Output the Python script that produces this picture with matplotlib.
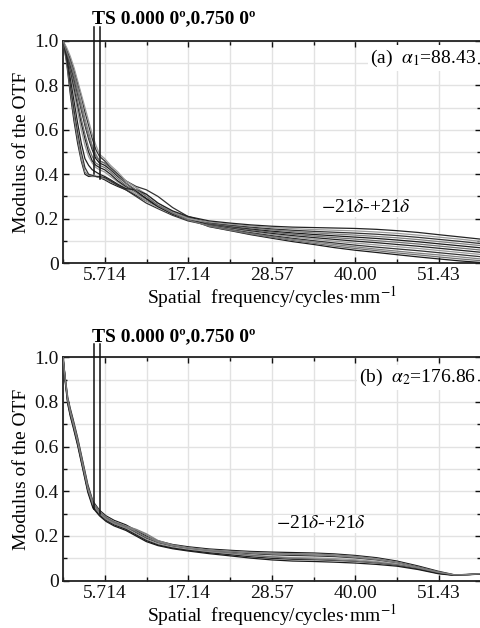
import matplotlib
matplotlib.use("Agg")
import matplotlib.pyplot as plt
from matplotlib.ticker import FixedLocator

plt.rcParams['font.family'] = ['Liberation Serif', 'DejaVu Serif']
plt.rcParams['mathtext.fontset'] = 'stix'

# ---------------- data ----------------
x_major = [5.714, 17.14, 28.57, 40.00, 51.43]
x_major_labels = ['5.714', '17.14', '28.57', '40.00', '51.43']
x_minor = [0, 11.43, 22.86, 34.29, 45.71, 57.14]
y_major = [0, 0.2, 0.4, 0.6, 0.8, 1.0]
y_major_labels = ['0', '0.2', '0.4', '0.6', '0.8', '1.0']
y_minor = [0.1, 0.3, 0.5, 0.7, 0.9]

# panel (a) frequencies
freq_a = [0, 0.5, 1, 1.5, 2, 2.5, 3, 3.5, 4, 4.5, 5, 5.7, 6.5, 7.5, 8.6, 10, 11.4, 13, 15, 17.1,
          20, 22.9, 25.7, 28.6, 31.4, 34.3, 37.1, 40, 42.9, 45.7, 48.6, 51.4, 54.3, 57.14]

mtf_a1 = [1.0, 0.90, 0.76, 0.64, 0.54, 0.46, 0.40, 0.39, 0.39, 0.39, 0.385, 0.375, 0.36, 0.345, 0.33, 0.305, 0.28, 0.255, 0.225, 0.200,
          0.164, 0.146, 0.128, 0.112, 0.097, 0.084, 0.070, 0.058, 0.048, 0.038, 0.028, 0.019, 0.010, 0.003]
mtf_a2 = [1.0, 0.91, 0.78, 0.66, 0.56, 0.47, 0.41, 0.395, 0.39, 0.39, 0.385, 0.38, 0.365, 0.35, 0.335, 0.31, 0.29, 0.26, 0.23, 0.205,
          0.168, 0.150, 0.134, 0.120, 0.107, 0.095, 0.084, 0.073, 0.063, 0.054, 0.045, 0.037, 0.028, 0.019]
mtf_a3 = [1.0, 0.92, 0.80, 0.69, 0.59, 0.50, 0.43, 0.40, 0.395, 0.39, 0.39, 0.385, 0.37, 0.35, 0.33, 0.30, 0.27, 0.245, 0.215, 0.19,
          0.170, 0.153, 0.138, 0.124, 0.112, 0.101, 0.091, 0.081, 0.072, 0.064, 0.056, 0.047, 0.038, 0.029]
mtf_a4 = [1.0, 0.94, 0.86, 0.77, 0.68, 0.60, 0.53, 0.48, 0.45, 0.43, 0.42, 0.41, 0.39, 0.365, 0.34, 0.31, 0.28, 0.25, 0.22, 0.195,
          0.172, 0.156, 0.142, 0.129, 0.118, 0.108, 0.099, 0.090, 0.082, 0.074, 0.066, 0.057, 0.048, 0.039]
mtf_a5 = [1.0, 0.94, 0.87, 0.79, 0.71, 0.63, 0.56, 0.50, 0.46, 0.44, 0.43, 0.42, 0.40, 0.37, 0.345, 0.32, 0.29, 0.255, 0.225, 0.20,
          0.174, 0.159, 0.146, 0.134, 0.124, 0.115, 0.107, 0.099, 0.092, 0.084, 0.076, 0.067, 0.058, 0.049]
mtf_a6 = [1.0, 0.95, 0.88, 0.81, 0.73, 0.65, 0.58, 0.52, 0.48, 0.45, 0.44, 0.43, 0.41, 0.38, 0.35, 0.32, 0.29, 0.26, 0.23, 0.205,
          0.176, 0.162, 0.150, 0.139, 0.130, 0.122, 0.115, 0.108, 0.101, 0.094, 0.086, 0.077, 0.068, 0.059]
mtf_a7 = [1.0, 0.95, 0.89, 0.83, 0.76, 0.69, 0.62, 0.56, 0.51, 0.47, 0.45, 0.44, 0.42, 0.39, 0.36, 0.325, 0.29, 0.255, 0.22, 0.195,
          0.178, 0.165, 0.154, 0.144, 0.136, 0.129, 0.123, 0.117, 0.111, 0.104, 0.096, 0.087, 0.078, 0.069]
mtf_a8 = [1.0, 0.96, 0.91, 0.85, 0.79, 0.72, 0.65, 0.59, 0.53, 0.49, 0.46, 0.45, 0.43, 0.40, 0.37, 0.34, 0.30, 0.26, 0.225, 0.20,
          0.180, 0.168, 0.158, 0.149, 0.142, 0.136, 0.131, 0.126, 0.120, 0.114, 0.106, 0.097, 0.088, 0.079]
mtf_a9 = [1.0, 0.96, 0.92, 0.87, 0.81, 0.75, 0.68, 0.62, 0.56, 0.51, 0.48, 0.46, 0.43, 0.40, 0.37, 0.345, 0.33, 0.30, 0.25, 0.21,
          0.182, 0.171, 0.162, 0.154, 0.148, 0.143, 0.139, 0.135, 0.130, 0.124, 0.116, 0.107, 0.098, 0.088]
mtf_a10 = [1.0, 0.97, 0.93, 0.88, 0.82, 0.76, 0.70, 0.64, 0.58, 0.53, 0.49, 0.47, 0.44, 0.41, 0.37, 0.34, 0.31, 0.27, 0.23, 0.20,
           0.185, 0.175, 0.167, 0.160, 0.155, 0.151, 0.148, 0.145, 0.140, 0.134, 0.126, 0.117, 0.108, 0.098]
mtf_a11 = [1.0, 0.93, 0.83, 0.73, 0.63, 0.54, 0.47, 0.44, 0.42, 0.41, 0.40, 0.39, 0.375, 0.355, 0.335, 0.33, 0.31, 0.27, 0.235, 0.21,
           0.19, 0.180, 0.172, 0.166, 0.162, 0.160, 0.158, 0.156, 0.152, 0.146, 0.138, 0.128, 0.118, 0.108]
mtf_a12 = [1.0, 0.95, 0.90, 0.84, 0.77, 0.70, 0.63, 0.57, 0.52, 0.48, 0.46, 0.45, 0.425, 0.395, 0.36, 0.33, 0.30, 0.26, 0.225, 0.195,
           0.166, 0.148, 0.131, 0.116, 0.102, 0.089, 0.077, 0.066, 0.056, 0.046, 0.037, 0.028, 0.019, 0.011]

curves_a = [mtf_a1, mtf_a2, mtf_a3, mtf_a4, mtf_a5, mtf_a6, mtf_a7, mtf_a8, mtf_a9, mtf_a10, mtf_a11, mtf_a12]

# panel (b) frequencies
freq_b = [0, 0.3, 0.65, 1, 1.4, 2, 2.8, 3.4, 4.1, 5, 5.9, 7, 8.6, 10, 11.4, 13, 15, 17.1, 20, 22.9, 25.7,
          28.6, 31.4, 34.3, 37.1, 40, 42.9, 45.7, 48.6, 51.4, 53.5, 55, 57.14]

mtf_b1 = [1.0, 0.91, 0.82, 0.77, 0.72, 0.64, 0.52, 0.43, 0.355, 0.315, 0.29, 0.27, 0.25, 0.225, 0.2, 0.178, 0.162, 0.152, 0.142, 0.136, 0.131,
          0.128, 0.126, 0.124, 0.12, 0.113, 0.103, 0.088, 0.066, 0.042, 0.027, 0.026, 0.031]
mtf_b2 = [1.0, 0.90, 0.81, 0.76, 0.71, 0.63, 0.51, 0.42, 0.35, 0.31, 0.285, 0.265, 0.245, 0.23, 0.21, 0.18, 0.16, 0.148, 0.138, 0.132, 0.127,
          0.123, 0.121, 0.12, 0.116, 0.109, 0.099, 0.084, 0.062, 0.039, 0.026, 0.026, 0.03]
mtf_b3 = [1.0, 0.90, 0.80, 0.75, 0.70, 0.62, 0.50, 0.41, 0.34, 0.305, 0.28, 0.26, 0.24, 0.215, 0.19, 0.17, 0.155, 0.145, 0.135, 0.128, 0.121,
          0.116, 0.113, 0.111, 0.108, 0.102, 0.093, 0.08, 0.06, 0.037, 0.026, 0.027, 0.03]
mtf_b4 = [1.0, 0.89, 0.79, 0.74, 0.69, 0.61, 0.49, 0.40, 0.335, 0.30, 0.275, 0.255, 0.235, 0.21, 0.185, 0.165, 0.15, 0.14, 0.13, 0.122, 0.114,
          0.108, 0.104, 0.102, 0.099, 0.094, 0.086, 0.075, 0.057, 0.035, 0.025, 0.027, 0.029]
mtf_b5 = [1.0, 0.90, 0.80, 0.745, 0.695, 0.615, 0.495, 0.405, 0.33, 0.295, 0.27, 0.25, 0.23, 0.205, 0.18, 0.16, 0.146, 0.136, 0.125, 0.116, 0.107,
          0.1, 0.096, 0.094, 0.091, 0.087, 0.08, 0.07, 0.053, 0.033, 0.025, 0.028, 0.03]
mtf_b6 = [1.0, 0.91, 0.81, 0.755, 0.705, 0.625, 0.505, 0.415, 0.345, 0.31, 0.28, 0.26, 0.24, 0.22, 0.195, 0.172, 0.157, 0.146, 0.134, 0.124, 0.114,
          0.106, 0.1, 0.097, 0.093, 0.088, 0.081, 0.071, 0.055, 0.034, 0.026, 0.027, 0.03]
mtf_b7 = [1.0, 0.89, 0.79, 0.735, 0.685, 0.605, 0.485, 0.395, 0.325, 0.29, 0.265, 0.245, 0.225, 0.2, 0.175, 0.157, 0.143, 0.133, 0.121, 0.111, 0.101,
          0.093, 0.088, 0.086, 0.083, 0.079, 0.073, 0.065, 0.05, 0.031, 0.024, 0.027, 0.029]
mtf_b8 = [1.0, 0.90, 0.805, 0.75, 0.70, 0.62, 0.50, 0.41, 0.34, 0.30, 0.275, 0.255, 0.238, 0.228, 0.205, 0.175, 0.158, 0.147, 0.137, 0.13, 0.124,
          0.12, 0.118, 0.116, 0.112, 0.105, 0.095, 0.081, 0.06, 0.038, 0.026, 0.027, 0.031]

curves_b = [mtf_b1, mtf_b2, mtf_b3, mtf_b4, mtf_b5, mtf_b6, mtf_b7, mtf_b8]

# field markers (TS 0.0000 deg, 0.7500 deg)
marker_x = [4.25, 5.05]
marker_bottom_a = [0.40, 0.378]
marker_bottom_b = [0.32, 0.30]

ts_label = 'TS 0.000 0º,0.750 0º'
label_a = r'(a)  $\alpha_1$=88.43'
label_b = r'(b)  $\alpha_2$=176.86'
range_label = r'$-$21$\delta$-+21$\delta$'

# ---------------- figure ----------------
fig = plt.figure(figsize=(4.81, 6.28), dpi=100)
ax_a = fig.add_axes([0.131, 0.581, 0.868, 0.354])
ax_b = fig.add_axes([0.131, 0.0753, 0.868, 0.356])

colors = ['#1a1a1a', '#808080', '#333333', '#9a9a9a', '#222222', '#707070']


def style(ax):
    ax.set_xlim(0, 57.14)
    ax.set_ylim(0, 1.0)
    ax.xaxis.set_major_locator(FixedLocator(x_major))
    ax.xaxis.set_minor_locator(FixedLocator(x_minor))
    ax.set_xticklabels(x_major_labels)
    ax.yaxis.set_major_locator(FixedLocator(y_major))
    ax.yaxis.set_minor_locator(FixedLocator(y_minor))
    ax.set_yticklabels(y_major_labels)
    ax.grid(True, which='both', color='#e2e2e2', lw=1.0)
    ax.set_axisbelow(True)
    ax.tick_params(which='both', direction='in', top=True, right=True, labelsize=14,
                   width=1.0, colors='#111111')
    ax.tick_params(which='major', length=4, pad=3)
    ax.tick_params(which='minor', length=3)
    for s in ax.spines.values():
        s.set_linewidth(1.3)
        s.set_color('#222222')
    ax.set_ylabel('Modulus of the OTF', fontsize=14, labelpad=3)
    ax.set_xlabel('Spatial  frequency/cycles·mm$^{-1}$', fontsize=14, labelpad=0)


for ax, freq, curves, mb, lab, lab_y, rng_xy, ts_y in [
        (ax_a, freq_a, curves_a, marker_bottom_a, label_a, 0.923, (41.4, 0.248), 1.08),
        (ax_b, freq_b, curves_b, marker_bottom_b, label_b, 0.91, (35.3, 0.254), 1.072)]:
    style(ax)
    for i, c in enumerate(curves):
        ax.plot(freq, c, color=colors[i % len(colors)], lw=0.9, zorder=3)
    for xm, yb in zip(marker_x, mb):
        ax.plot([xm, xm], [yb, 1.06], color='#111111', lw=1.1, clip_on=False, zorder=4)
    ax.text(3.9, ts_y, ts_label, fontsize=14, fontweight='bold', ha='left', va='baseline',
            clip_on=False)
    ax.text(56.5, lab_y, lab, fontsize=14, ha='right', va='center',
            bbox=dict(facecolor='white', edgecolor='none', pad=1.5), zorder=5)
    ax.text(rng_xy[0], rng_xy[1], range_label, fontsize=14, ha='center', va='center',
            bbox=dict(facecolor='white', edgecolor='none', pad=0.5), zorder=5)

fig.savefig('out.png', dpi=100)
